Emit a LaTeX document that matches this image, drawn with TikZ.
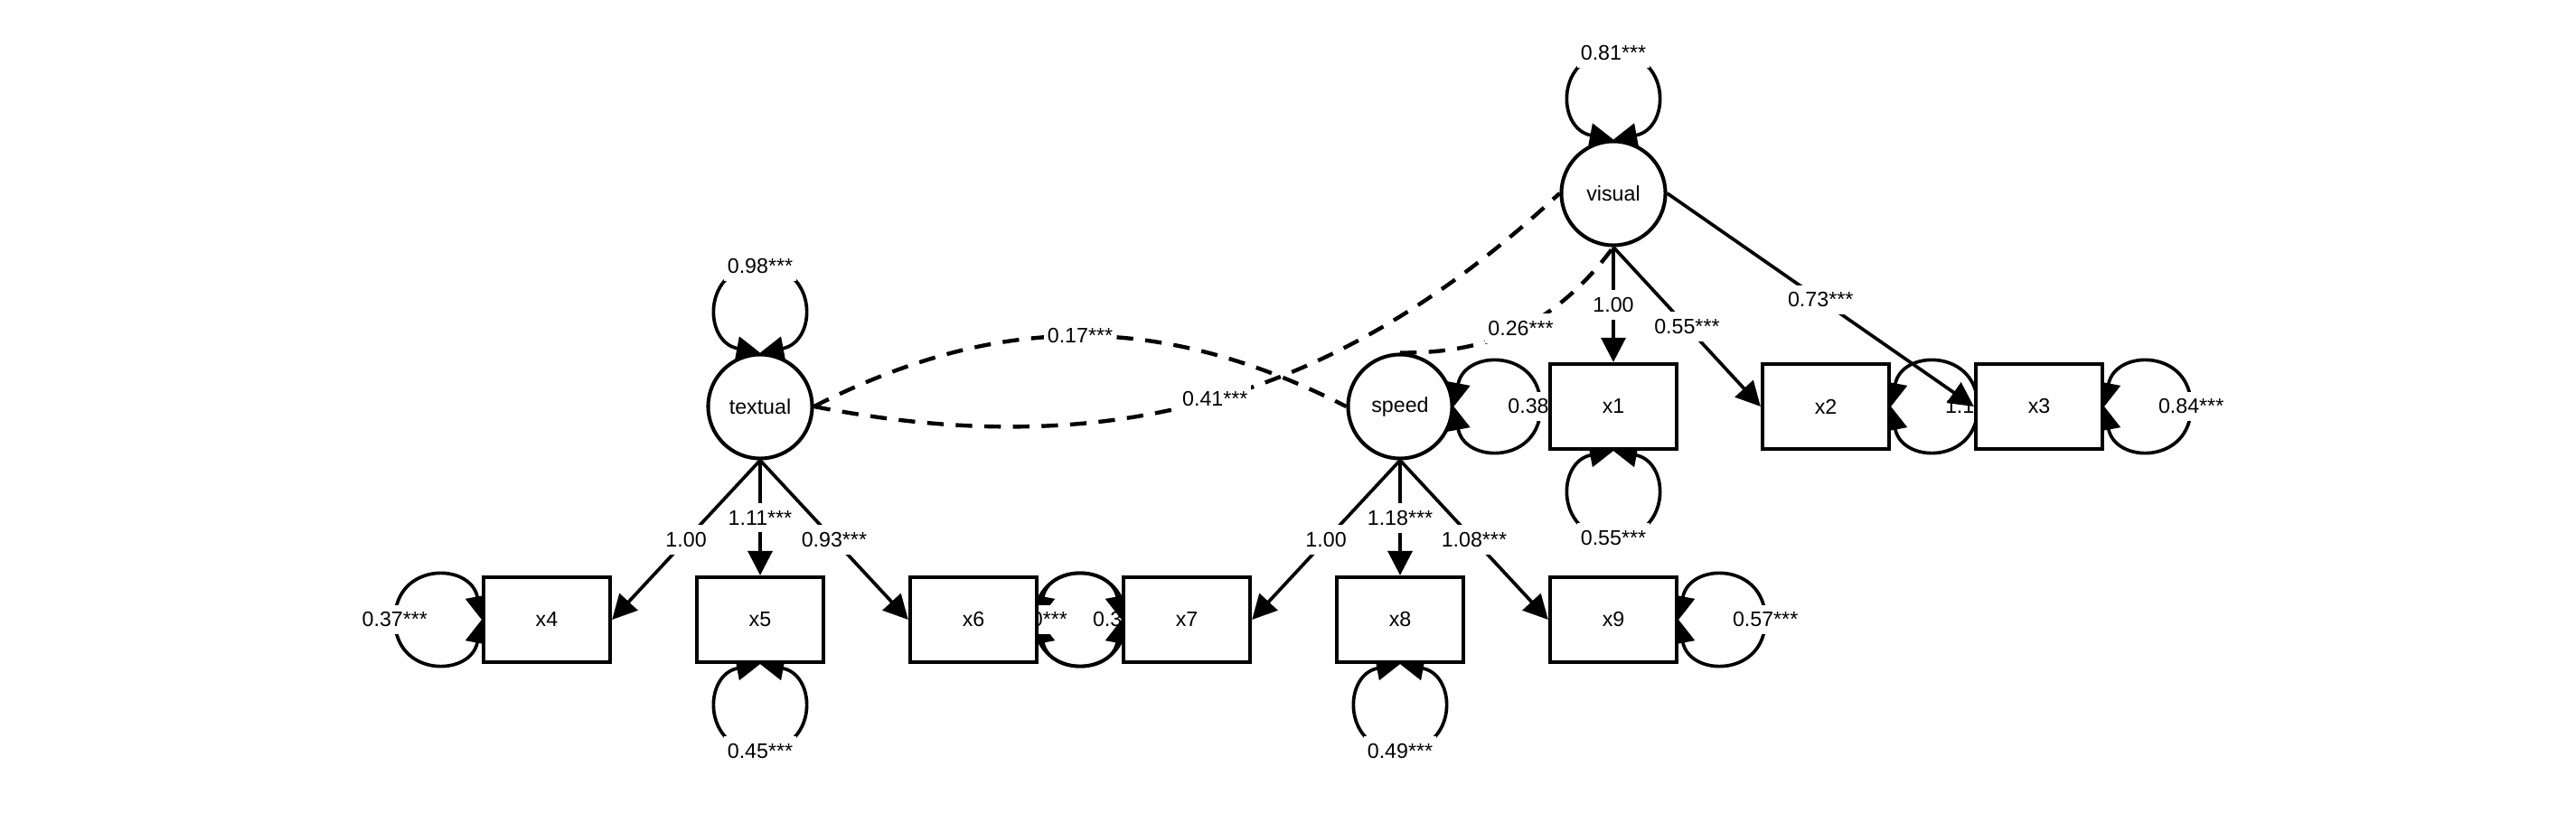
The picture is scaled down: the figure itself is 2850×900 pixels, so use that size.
\documentclass[tikz,border=0pt]{standalone}
\usepackage{fontspec}
\setmainfont{Liberation Sans}
\usetikzlibrary{arrows.meta}
\pgfdeclarelayer{bglayer}
\pgfsetlayers{bglayer,main}
\newcommand\labfont{\fontsize{6.6pt}{7.9pt}\selectfont}
\tikzset{
  lat/.style={circle, draw, line width=1.15pt, fill=white, minimum size=1.15cm, inner sep=0pt, font=\labfont},
  man/.style={rectangle, draw, line width=1.2pt, fill=white, minimum width=1.40cm, minimum height=0.94cm, inner sep=0pt, font=\labfont},
  lbl/.style={fill=white, inner xsep=1pt, inner ysep=2.3pt, font=\labfont},
  load/.style={-{Triangle[length=7.7pt,width=7.7pt]}, line width=1.05pt},
  loopline/.style={{Triangle[length=7.4pt,width=7.4pt]}-{Triangle[length=7.4pt,width=7.4pt]}, line width=1.05pt},
  cov/.style={line width=1.25pt, dash pattern=on 5.2pt off 3.8pt},
}
\newcommand{\resloop}[3]{%
  \draw[loopline, shift={(#1)}, rotate=#2] (0,0) .. controls (12,64) and (96,64) .. (96,0) node[lbl]{#3} .. controls (96,-64) and (12,-64) .. (0,0);
}
\begin{document}
\begin{tikzpicture}[x=0.01cm, y=-0.01cm]
\useasboundingbox (0,0) rectangle (2850,900);
% latent variables
\node[lat] (visual) at (1785,214) {visual};
\node[lat] (textual) at (841,450) {textual};
\node[lat] (speed) at (1549,450) {speed};
% manifest variables
\node[man] (x1) at (1785,450) {x1};
\node[man] (x2) at (2020,450) {x2};
\node[man] (x3) at (2256,450) {x3};
\node[man] (x4) at (605,686) {x4};
\node[man] (x5) at (841,686) {x5};
\node[man] (x6) at (1077,686) {x6};
\node[man] (x7) at (1313,686) {x7};
\node[man] (x8) at (1549,686) {x8};
\node[man] (x9) at (1785,686) {x9};
\begin{pgfonlayer}{bglayer}
% variances
\resloop{visual.north}{90}{0.81***}
\resloop{textual.north}{90}{0.98***}
\resloop{speed.east}{0}{0.38***}
\resloop{x1.south}{270}{0.55***}
\resloop{x2.east}{0}{1.13***}
\resloop{x3.east}{0}{0.84***}
\resloop{x4.west}{180}{0.37***}
\resloop{x5.south}{270}{0.45***}
\resloop{x6.east}{0}{0.36***}
\resloop{x7.west}{180}{0.80***}
\resloop{x8.south}{270}{0.49***}
\resloop{x9.east}{0}{0.57***}
% covariances
\draw[cov] (textual.east) to[bend left=27] node[lbl]{0.17***} (speed.west);
\draw[cov] (textual.east) to[bend right=27] node[lbl]{0.41***} (visual.west);
\draw[cov] (speed.north) to[bend right=27] node[lbl]{0.26***} (visual.south);
% loadings
\draw[load] (textual.south) -- node[lbl]{1.00} (x4.east);
\draw[load] (textual.south) -- node[lbl]{1.11***} (x5.north);
\draw[load] (textual.south) -- node[lbl]{0.93***} (x6.west);
\draw[load] (speed.south) -- node[lbl]{1.00} (x7.east);
\draw[load] (speed.south) -- node[lbl]{1.18***} (x8.north);
\draw[load] (speed.south) -- node[lbl]{1.08***} (x9.west);
\draw[load] (visual.south) -- node[lbl]{1.00} (x1.north);
\draw[load] (visual.south) -- node[lbl]{0.55***} (x2.west);
\draw[load] (visual.east) -- node[lbl]{0.73***} (x3.west);
\end{pgfonlayer}
\end{tikzpicture}
\end{document}
